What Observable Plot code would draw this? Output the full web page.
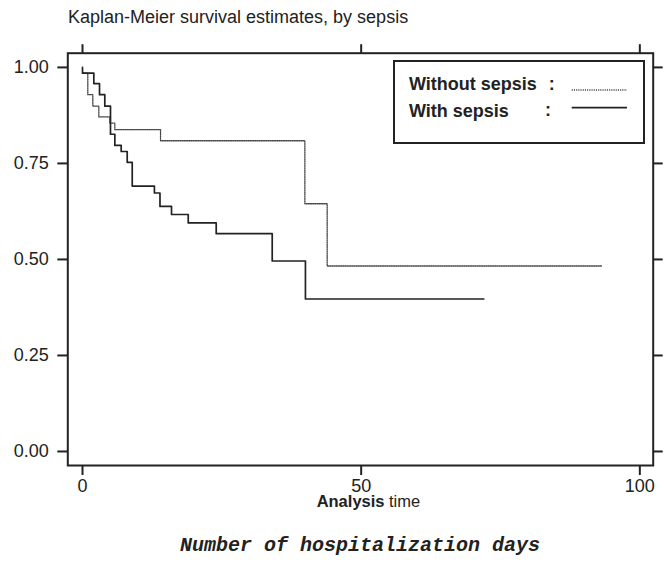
<!DOCTYPE html>
<html><head><meta charset="utf-8">
<script src="https://cdn.jsdelivr.net/npm/d3@7"></script>
<script src="https://cdn.jsdelivr.net/npm/@observablehq/plot@0.6"></script>
<style>
body{margin:0;background:#fff;}
#wrap{position:relative;width:664px;height:572px;overflow:hidden;font-family:"Liberation Sans",Arial,sans-serif;color:#222;background:#fff;}
#title{position:absolute;left:68px;top:7.5px;font-size:18px;line-height:18px;white-space:nowrap;}
#chart{position:absolute;left:0;top:36px;}
#legend{position:absolute;left:393px;top:59.7px;width:252px;height:84.6px;border:2px solid #222;box-sizing:border-box;}
.lg{position:absolute;font-size:18px;line-height:18px;font-weight:bold;white-space:nowrap;}
#samples{position:absolute;left:571px;top:80px;}
#caption{position:absolute;left:160px;width:400px;top:535.7px;text-align:center;font-family:"Liberation Mono","Courier New",monospace;font-weight:bold;font-style:italic;font-size:20px;line-height:20px;white-space:nowrap;}
</style></head><body><div id="wrap"></div>
<script>
const title = "Kaplan-Meier survival estimates, by sepsis";
const caption = "Number of hospitalization days";
const seriesNames = ["Without sepsis", "With sepsis"];
const withoutTime = [0, 0.95, 1.85, 2.93, 4.9, 5.8, 14.0, 39.9, 43.9, 93.1];
const withoutSurv = [0.985, 0.929, 0.899, 0.871, 0.855, 0.838, 0.809, 0.645, 0.483, 0.483];
const withTime = [0, 0, 2.03, 3.05, 4.0, 5.02, 5.8, 6.94, 8.02, 8.92, 12.9, 13.9, 15.97, 18.97, 23.99, 34.04, 40.0, 72.0];
const withSurv = [1.0, 0.985, 0.958, 0.929, 0.899, 0.826, 0.797, 0.781, 0.753, 0.691, 0.673, 0.638, 0.617, 0.595, 0.567, 0.496, 0.397, 0.397];
const xTicks = [0, 50, 100];
const yTicks = [0, 0.25, 0.5, 0.75, 1];
const xTitleBold = "Analysis";
const xTitleRest = "time";

const withoutData = withoutTime.map((t, i) => ({t, s: withoutSurv[i]}));
const withData = withTime.map((t, i) => ({t, s: withSurv[i]}));

const wrap = document.getElementById("wrap");
const ttl = document.createElement("div"); ttl.id = "title"; ttl.textContent = title; wrap.appendChild(ttl);

const plot = Plot.plot({
  width: 664, height: 500,
  marginTop: 16.7, marginBottom: 71, marginLeft: 67.3, marginRight: 11.3,
  x: {domain: [-2.64, 102.4], label: null},
  y: {domain: [-0.0365, 1.037], label: null},
  style: {fontFamily: '"Liberation Sans", Arial, sans-serif', fontSize: "18px", color: "#222", background: "transparent", overflow: "visible"},
  marks: [
    Plot.axisY(yTicks, {tickFormat: d3.format(".2f"), tickSize: 10, tickPadding: 9, strokeWidth: 2, fontSize: 18, label: null}),
    Plot.axisY(yTicks, {anchor: "right", tickFormat: () => "", tickSize: 9, strokeWidth: 2, label: null}),
    Plot.axisX(xTicks, {tickFormat: d3.format("d"), tickSize: 10, tickPadding: 4, strokeWidth: 2, fontSize: 18, label: null}),
    Plot.axisX(xTicks, {anchor: "top", tickFormat: () => "", tickSize: 9.5, strokeWidth: 2, label: null}),
    Plot.line(withoutData, {x: "t", y: "s", curve: "step-after", stroke: "#444", strokeWidth: 1.3, strokeDasharray: "1.1,1.1"}),
    Plot.line(withData, {x: "t", y: "s", curve: "step-after", stroke: "#222", strokeWidth: 1.7}),
    Plot.frame({stroke: "#222", strokeWidth: 2}),
    Plot.text([xTitleBold], {text: d => d, frameAnchor: "bottom", lineAnchor: "middle", dx: 24, dy: 36, textAnchor: "end", fontWeight: "bold", fontSize: 16.5, fill: "#222"}),
    Plot.text([xTitleRest], {text: d => d, frameAnchor: "bottom", lineAnchor: "middle", dx: 28.4, dy: 36, textAnchor: "start", fontSize: 16.5, fill: "#222"})
  ]
});
plot.id = "chart";
wrap.appendChild(plot);

const lg = document.createElement("div"); lg.id = "legend"; wrap.appendChild(lg);
function addText(txt, left, top) {
  const s = document.createElement("div"); s.className = "lg"; s.textContent = txt;
  s.style.left = left + "px"; s.style.top = top + "px"; wrap.appendChild(s);
}
addText(seriesNames[0], 409, 74.8);
addText(seriesNames[1], 409, 101.8);
addText(":", 548.7, 74.8);
addText(":", 545, 101.4);
const ns = "http://www.w3.org/2000/svg";
const sv = document.createElementNS(ns, "svg");
sv.setAttribute("id", "samples"); sv.setAttribute("width", "60"); sv.setAttribute("height", "40");
const l1 = document.createElementNS(ns, "line");
l1.setAttribute("x1", 0.7); l1.setAttribute("x2", 56); l1.setAttribute("y1", 10); l1.setAttribute("y2", 10);
l1.setAttribute("stroke", "#444"); l1.setAttribute("stroke-width", 1.3); l1.setAttribute("stroke-dasharray", "1.1,1.1");
const l2 = document.createElementNS(ns, "line");
l2.setAttribute("x1", 0.7); l2.setAttribute("x2", 56); l2.setAttribute("y1", 27.7); l2.setAttribute("y2", 27.7);
l2.setAttribute("stroke", "#222"); l2.setAttribute("stroke-width", 1.7);
sv.appendChild(l1); sv.appendChild(l2); wrap.appendChild(sv);

const cap = document.createElement("div"); cap.id = "caption"; cap.textContent = caption; wrap.appendChild(cap);
</script></body></html>
